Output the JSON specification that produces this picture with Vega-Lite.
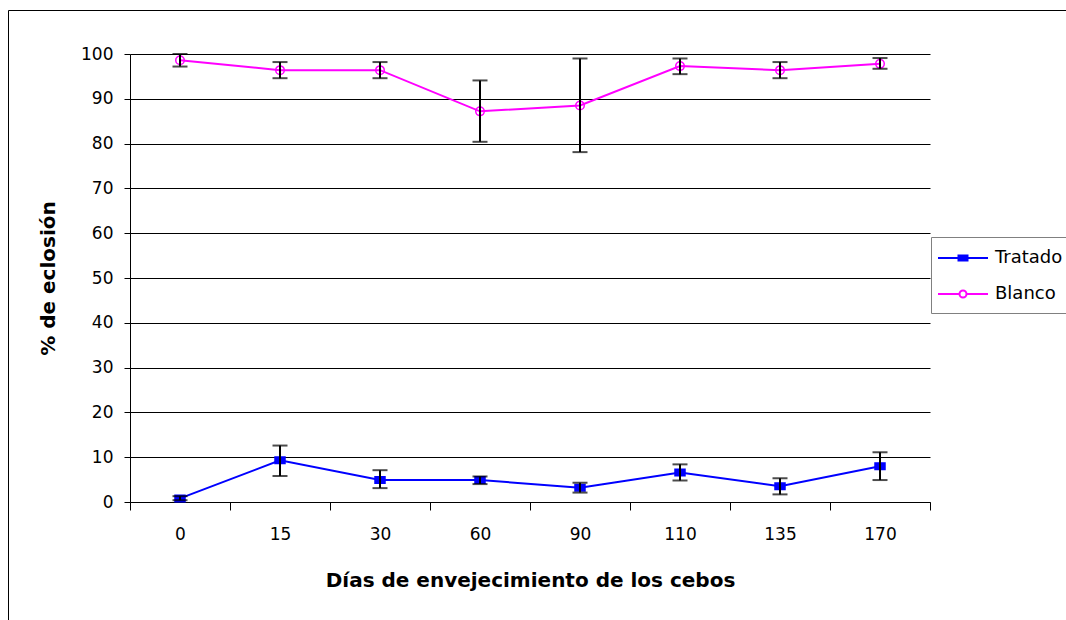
{
  "$schema": "https://vega.github.io/schema/vega-lite/v6.json",
  "width": 1058,
  "height": 610,
  "autosize": {"type": "none"},
  "padding": {"left": 8, "top": 10, "right": 0, "bottom": 0},
  "background": "white",
  "config": {
    "view": {"stroke": "black", "strokeWidth": 1},
    "font": "DejaVu Sans",
    "axis": {
      "labelFont": "DejaVu Sans",
      "titleFont": "DejaVu Sans",
      "labelColor": "black",
      "titleColor": "black",
      "domainColor": "black",
      "tickColor": "black",
      "domainWidth": 1,
      "tickWidth": 1
    }
  },
  "data": {
    "values": [
      {"day": "0", "series": "Tratado", "value": 0.8, "lo": 0.4, "hi": 1.3},
      {"day": "15", "series": "Tratado", "value": 9.3, "lo": 5.8, "hi": 12.6},
      {"day": "30", "series": "Tratado", "value": 4.9, "lo": 3.1, "hi": 7.1},
      {"day": "60", "series": "Tratado", "value": 4.9, "lo": 4.0, "hi": 5.7},
      {"day": "90", "series": "Tratado", "value": 3.2, "lo": 2.1, "hi": 4.3},
      {"day": "110", "series": "Tratado", "value": 6.6, "lo": 4.8, "hi": 8.4},
      {"day": "135", "series": "Tratado", "value": 3.5, "lo": 1.7, "hi": 5.3},
      {"day": "170", "series": "Tratado", "value": 8.0, "lo": 4.9, "hi": 11.1},
      {"day": "0", "series": "Blanco", "value": 98.6, "lo": 97.2, "hi": 100.0},
      {"day": "15", "series": "Blanco", "value": 96.4, "lo": 94.6, "hi": 98.2},
      {"day": "30", "series": "Blanco", "value": 96.4, "lo": 94.6, "hi": 98.2},
      {"day": "60", "series": "Blanco", "value": 87.2, "lo": 80.4, "hi": 94.1},
      {"day": "90", "series": "Blanco", "value": 88.5, "lo": 78.1, "hi": 99.0},
      {"day": "110", "series": "Blanco", "value": 97.3, "lo": 95.5, "hi": 99.0},
      {"day": "135", "series": "Blanco", "value": 96.4, "lo": 94.6, "hi": 98.2},
      {"day": "170", "series": "Blanco", "value": 97.8, "lo": 96.7, "hi": 99.1}
    ]
  },
  "encoding": {
    "x": {
      "field": "day",
      "type": "nominal",
      "scale": {
        "type": "band",
        "domain": ["0", "15", "30", "60", "90", "110", "135", "170"],
        "range": [122, 922],
        "paddingInner": 0,
        "paddingOuter": 0
      },
      "axis": {
        "title": "Días de envejecimiento de los cebos",
        "labelAngle": 0,
        "tickBand": "extent",
        "tickSize": 8,
        "labelPadding": 16,
        "labelFontSize": 17,
        "titleFontSize": 20,
        "titleFontWeight": "bold",
        "titlePadding": 28,
        "offset": -118,
        "grid": false
      }
    },
    "y": {
      "field": "value",
      "type": "quantitative",
      "scale": {"domain": [0, 100], "range": [492, 44], "nice": false, "zero": false},
      "axis": {
        "title": "% de eclosión",
        "values": [0, 10, 20, 30, 40, 50, 60, 70, 80, 90, 100],
        "tickSize": 6,
        "labelPadding": 11,
        "labelFontSize": 17,
        "titleFontSize": 20,
        "titleFontWeight": "bold",
        "titlePadding": 22,
        "offset": -122,
        "grid": true,
        "gridColor": "black",
        "gridWidth": 1
      }
    }
  },
  "layer": [
    {
      "mark": {"type": "line", "strokeWidth": 2},
      "encoding": {
        "color": {
          "field": "series",
          "type": "nominal",
          "scale": {"domain": ["Tratado", "Blanco"], "range": ["#0000FF", "#FF00FF"]},
          "legend": null
        }
      }
    },
    {
      "mark": {"type": "point", "filled": false, "strokeWidth": 1.5, "size": 100, "opacity": 1},
      "encoding": {
        "color": {
          "field": "series",
          "type": "nominal",
          "scale": {"domain": ["Tratado", "Blanco"], "range": ["#0000FF", "#FF00FF"]},
          "legend": null
        },
        "shape": {
          "field": "series",
          "type": "nominal",
          "scale": {
            "domain": ["Tratado", "Blanco"],
            "range": ["M-1,-0.65H1V0.65H-1Z", "M-0.85,0A0.85 0.85 0 1 1 0.85,0A0.85 0.85 0 1 1 -0.85,0Z"]
          },
          "legend": null
        },
        "fill": {
          "field": "series",
          "type": "nominal",
          "scale": {"domain": ["Tratado", "Blanco"], "range": ["#0000FF", "transparent"]},
          "legend": null
        }
      }
    },
    {
      "mark": {
        "type": "errorbar",
        "color": "black",
        "ticks": {"size": 15, "thickness": 2, "color": "black"},
        "rule": {"strokeWidth": 2, "color": "black"}
      },
      "encoding": {
        "y": {"field": "lo", "type": "quantitative"},
        "y2": {"field": "hi"}
      }
    },
    {
      "mark": {"type": "point", "filled": false, "size": 0, "strokeWidth": 2},
      "encoding": {
        "color": {
          "field": "series",
          "type": "nominal",
          "scale": {"domain": ["Tratado", "Blanco"], "range": ["#0000FF", "#FF00FF"]},
          "legend": {
            "title": null,
            "orient": "none",
            "legendX": 923,
            "legendY": 227,
            "strokeColor": "#808080",
            "fillColor": "white",
            "padding": 10,
            "labelFont": "DejaVu Sans",
            "labelFontSize": 18,
            "labelColor": "black",
            "labelOffset": 21,
            "symbolOffset": 11,
            "rowPadding": 16,
            "symbolSize": 400,
            "symbolStrokeWidth": 2,
            "symbolOpacity": 1
          }
        },
        "shape": {
          "field": "series",
          "type": "nominal",
          "scale": {
            "domain": ["Tratado", "Blanco"],
            "range": [
              "M-2.5,0H2.5M-0.55,-0.25H0.55M-0.55,-0.12H0.55M-0.55,0.12H0.55M-0.55,0.25H0.55",
              "M-2.5,0H-0.35A0.35 0.35 0 1 1 0.35,0A0.35 0.35 0 1 1 -0.35,0M0.35,0H2.5"
            ]
          },
          "legend": {
            "title": null,
            "orient": "none",
            "legendX": 923,
            "legendY": 227,
            "strokeColor": "#808080",
            "fillColor": "white",
            "padding": 10,
            "labelFont": "DejaVu Sans",
            "labelFontSize": 18,
            "labelColor": "black",
            "labelOffset": 21,
            "symbolOffset": 11,
            "rowPadding": 16,
            "symbolSize": 400,
            "symbolStrokeWidth": 2,
            "symbolOpacity": 1
          }
        }
      }
    }
  ],
  "resolve": {"scale": {"color": "independent", "shape": "independent", "fill": "independent"}}
}
